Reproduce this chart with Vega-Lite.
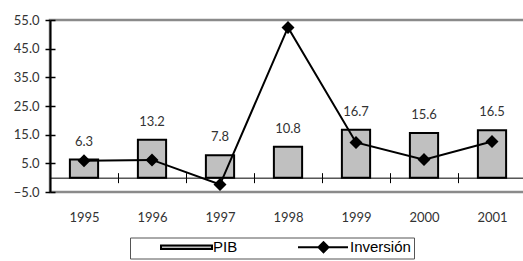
{
  "$schema": "https://vega.github.io/schema/vega-lite/v6.json",
  "width": 476,
  "height": 172,
  "autosize": {"type": "none"},
  "padding": {"left": 50, "top": 20, "right": 0, "bottom": 69},
  "background": "white",
  "config": {"view": {"stroke": "#8a8a8a", "strokeWidth": 2.5}, "font": "Lato"},
  "data": {
    "values": [
      {"year": "1995", "PIB": 6.3, "Inversion": 5.9},
      {"year": "1996", "PIB": 13.2, "Inversion": 6.2},
      {"year": "1997", "PIB": 7.8, "Inversion": -2.4},
      {"year": "1998", "PIB": 10.8, "Inversion": 52.4},
      {"year": "1999", "PIB": 16.7, "Inversion": 12.3},
      {"year": "2000", "PIB": 15.6, "Inversion": 6.3},
      {"year": "2001", "PIB": 16.5, "Inversion": 12.6}
    ]
  },
  "resolve": {"axis": {"x": "independent", "y": "independent"}},
  "layer": [
    {
      "mark": {"type": "bar", "strokeWidth": 2, "width": {"band": 0.415}},
      "encoding": {
        "x": {
          "field": "year", "type": "ordinal",
          "scale": {"paddingInner": 0, "paddingOuter": 0},
          "axis": {
            "orient": "bottom", "offset": -14.33, "title": null,
            "domainColor": "black", "domainWidth": 1,
            "tickBand": "extent", "tickColor": "black", "tickSize": 5, "tickWidth": 1,
            "labelAngle": 0, "labelPadding": 29, "labelFont": "Lato", "labelFontSize": 13,
            "labelColor": "#333", "labelBaseline": "top"
          }
        },
        "y": {
          "field": "PIB", "type": "quantitative",
          "scale": {"domain": [-5, 55], "nice": false, "zero": false},
          "axis": {
            "values": [-5, 5, 15, 25, 35, 45, 55], "format": ".1f", "title": null, "grid": false,
            "domainColor": "black", "domainWidth": 2,
            "tickColor": "black", "tickWidth": 1.5, "tickSize": 5,
            "labelPadding": 6, "labelFont": "Lato", "labelFontSize": 13, "labelColor": "#333"
          }
        },
        "fill": {
          "datum": "PIB", "type": "nominal",
          "scale": {"domain": ["PIB", "Inversión"], "range": ["#c0c0c0", "black"]},
          "legend": {
            "orient": "none", "legendX": 80, "legendY": 217.5, "direction": "horizontal",
            "title": null, "padding": 3, "strokeColor": "#555", "fillColor": "white",
            "symbolSize": 5929, "symbolStrokeWidth": 2, "symbolStrokeColor": "black",
            "symbolOffset": 14, "clipHeight": 13,
            "columnPadding": 32, "labelOffset": -13,
            "labelFont": "Liberation Sans", "labelFontSize": 15, "labelColor": "black"
          }
        },
        "stroke": {
          "datum": "PIB", "type": "nominal",
          "scale": {"domain": ["PIB", "Inversión"], "range": ["black", "black"]},
          "legend": {"title": null}
        }
      }
    },
    {
      "mark": {"type": "text", "dy": -18, "fontSize": 13, "color": "#333", "font": "Lato", "baseline": "middle"},
      "encoding": {
        "x": {"field": "year", "type": "ordinal", "axis": null},
        "y": {"field": "PIB", "type": "quantitative", "axis": null},
        "text": {"field": "PIB", "type": "quantitative", "format": ".1f"}
      }
    },
    {
      "mark": {"type": "line", "strokeWidth": 2},
      "encoding": {
        "x": {
          "field": "year", "type": "ordinal",
          "axis": {"orient": "bottom", "offset": -14.33, "title": null, "domain": false, "labels": false,
                   "tickBand": "extent", "tickColor": "black", "tickSize": -5, "tickWidth": 1}
        },
        "y": {
          "field": "Inversion", "type": "quantitative",
          "axis": {"orient": "left", "values": [-5, 5, 15, 25, 35, 45, 55], "labels": false, "domain": false,
                   "tickSize": -5, "tickColor": "black", "tickWidth": 1.5, "title": null, "grid": false}
        },
        "stroke": {"datum": "Inversión", "type": "nominal", "legend": {"title": null}}
      }
    },
    {
      "mark": {"type": "point", "filled": true, "size": 10000, "opacity": 1},
      "encoding": {
        "x": {"field": "year", "type": "ordinal", "axis": null},
        "y": {"field": "Inversion", "type": "quantitative", "axis": null},
        "fill": {"datum": "Inversión", "type": "nominal", "legend": {"title": null}},
        "shape": {
          "datum": "Inversión", "type": "nominal",
          "scale": {
            "domain": ["PIB", "Inversión"],
            "range": ["M-0.662,-0.048H0.662V0.048H-0.662Z", "M-0.662,0H0.636M-0.13,0L0,-0.13L0.13,0L0,0.13Z"]
          },
          "legend": {"title": null}
        }
      }
    }
  ]
}
